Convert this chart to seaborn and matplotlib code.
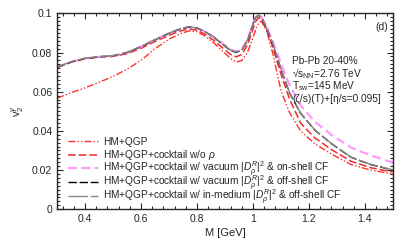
import numpy as np
import pandas as pd
import seaborn as sns
import matplotlib.pyplot as plt
from matplotlib.ticker import MultipleLocator

# invariant mass grid [GeV]
mass = [0.30, 0.35, 0.40, 0.45, 0.50, 0.55, 0.60, 0.65, 0.70, 0.74, 0.77, 0.80, 0.83,
        0.86, 0.89, 0.92, 0.94, 0.96, 0.98, 1.00, 1.01, 1.02, 1.03, 1.05, 1.07, 1.10,
        1.13, 1.17, 1.22, 1.28, 1.35, 1.42, 1.50]

v2_hm_qgp = [0.0567, 0.0595, 0.0620, 0.0648, 0.0678, 0.0715, 0.0760, 0.0820, 0.0868, 0.0896,
             0.0910, 0.0906, 0.0883, 0.0849, 0.0809, 0.0769, 0.0751, 0.0759, 0.0800, 0.0875,
             0.0920, 0.0950, 0.0960, 0.0905, 0.0800, 0.0605, 0.0495, 0.0400, 0.0335, 0.0282,
             0.0228, 0.0200, 0.0180]

v2_no_rho = [0.0723, 0.0750, 0.0768, 0.0776, 0.0780, 0.0794, 0.0822, 0.0856, 0.0888, 0.0910,
             0.0920, 0.0914, 0.0892, 0.0862, 0.0825, 0.0790, 0.0778, 0.0790, 0.0838, 0.0920,
             0.0960, 0.0978, 0.0970, 0.0910, 0.0830, 0.0690, 0.0565, 0.0440, 0.0365, 0.0305,
             0.0245, 0.0212, 0.0190]

v2_vac_onshell = [0.0725, 0.0752, 0.0770, 0.0778, 0.0783, 0.0800, 0.0830, 0.0865, 0.0898, 0.0920,
                  0.0930, 0.0925, 0.0905, 0.0879, 0.0847, 0.0815, 0.0806, 0.0818, 0.0862, 0.0945,
                  0.0980, 0.0990, 0.0982, 0.0928, 0.0860, 0.0745, 0.0635, 0.0530, 0.0448, 0.0380,
                  0.0315, 0.0275, 0.0238]

v2_vac_offshell = [0.0725, 0.0752, 0.0770, 0.0778, 0.0783, 0.0800, 0.0830, 0.0865, 0.0898, 0.0920,
                   0.0930, 0.0925, 0.0905, 0.0878, 0.0843, 0.0810, 0.0800, 0.0812, 0.0860, 0.0945,
                   0.0980, 0.0990, 0.0980, 0.0920, 0.0845, 0.0715, 0.0595, 0.0490, 0.0405, 0.0335,
                   0.0265, 0.0228, 0.0200]

v2_med_offshell = [0.0726, 0.0753, 0.0771, 0.0779, 0.0784, 0.0801, 0.0831, 0.0866, 0.0899, 0.0921,
                   0.0931, 0.0926, 0.0906, 0.0879, 0.0845, 0.0812, 0.0802, 0.0814, 0.0862, 0.0946,
                   0.0981, 0.0991, 0.0981, 0.0922, 0.0847, 0.0717, 0.0597, 0.0491, 0.0406, 0.0336,
                   0.0266, 0.0229, 0.0201]

labels = [
    'HM+QGP',
    r'HM+QGP+cocktail w/o $\rho$',
    r'HM+QGP+cocktail w/ vacuum $|D^R_\rho|^2$ & on-shell CF',
    r'HM+QGP+cocktail w/ vacuum $|D^R_\rho|^2$ & off-shell CF',
    r'HM+QGP+cocktail w/ in-medium $|D^R_\rho|^2$ & off-shell CF',
]
series = [v2_hm_qgp, v2_no_rho, v2_vac_onshell, v2_vac_offshell, v2_med_offshell]
colors = ['#ff3030', '#ee2a2a', '#ff99ff', '#000000', '#888888']
styles = [(0, (5, 1.5, 1, 1.5, 1, 1.5)), (0, (5, 2)), (0, (4, 2)), (0, (6, 2)), (0, (14, 2))]
widths = [1.0, 1.1, 1.6, 1.0, 1.0]

sns.set_style("ticks")
plt.rcParams['font.family'] = ['Liberation Sans', 'DejaVu Sans']
plt.rcParams['mathtext.fontset'] = 'custom'
plt.rcParams['mathtext.rm'] = 'Liberation Sans'
plt.rcParams['mathtext.it'] = 'Liberation Sans:italic'
plt.rcParams['mathtext.bf'] = 'Liberation Sans:bold'

fig = plt.figure(figsize=(4.11, 2.47), dpi=100)
ax = fig.add_axes([0.139, 0.153, 0.817, 0.793])

for vals, lab, c, ls, lw in zip(series, labels, colors, styles, widths):
    df = pd.DataFrame({'M': mass, 'v2': vals})
    sns.lineplot(data=df, x='M', y='v2', ax=ax, color=c, linestyle=ls, lw=lw, label=lab,
                 legend=False)

ax.set_xlim(0.3, 1.5)
ax.set_ylim(0, 0.1)
ax.xaxis.set_minor_locator(MultipleLocator(0.04))
ax.yaxis.set_minor_locator(MultipleLocator(0.002))
ax.set_xticks([0.4, 0.6, 0.8, 1.0, 1.2, 1.4])
ax.set_xticklabels(['0.4', '0.6', '0.8', '1', '1.2', '1.4'])
ax.set_yticks([0, 0.02, 0.04, 0.06, 0.08, 0.1])
ax.set_yticklabels(['0', '0.02', '0.04', '0.06', '0.08', '0.1'])
ax.tick_params(which='both', direction='in', top=True, right=True, labelsize=7.5, width=0.8)
ax.tick_params(which='major', length=4)
ax.tick_params(which='minor', length=2)
for s in ax.spines.values():
    s.set_linewidth(1.0)

ax.set_xlabel('M [GeV]', fontsize=8, labelpad=3)
ax.set_ylabel(r'v$_2^{\gamma}$', fontsize=8, labelpad=4)

ax.text(0.985, 0.93, '(d)', transform=ax.transAxes, ha='right', va='center', fontsize=7.5)
ax.text(0.70, 0.755, 'Pb-Pb 20-40%', transform=ax.transAxes, fontsize=7.3, va='center')
ax.text(0.70, 0.692, r'√s$_{\rm NN}$=2.76 TeV', transform=ax.transAxes, fontsize=7.3, va='center')
ax.text(0.70, 0.627, r'T$_{\rm sw}$=145 MeV', transform=ax.transAxes, fontsize=7.3, va='center')
ax.text(0.70, 0.562, '(ζ/s)(T)+[η/s=0.095]', transform=ax.transAxes, fontsize=7.3, va='center')

# one legend per row so the rows stay evenly spaced despite the math labels
row_y = [0.343, 0.275, 0.205, 0.134, 0.063]
handles = ax.get_lines()
for i, (h, lab, y) in enumerate(zip(handles, labels, row_y)):
    leg = ax.legend([h], [lab], loc='center left', bbox_to_anchor=(0.033, y), frameon=False,
                    fontsize=7.3, handlelength=2.9, handletextpad=0.5, borderpad=0,
                    borderaxespad=0)
    if i < len(labels) - 1:
        ax.add_artist(leg)

fig.savefig('out.png', dpi=100)
